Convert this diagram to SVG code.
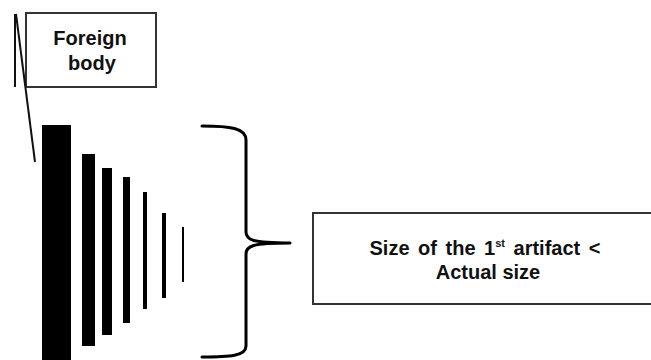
<svg xmlns="http://www.w3.org/2000/svg" width="651" height="360" viewBox="0 0 651 360">
<style>
.box{fill:#fff;stroke:#333;stroke-width:2}
.lbl{font-family:"Liberation Sans",Arial,sans-serif;font-weight:bold;font-size:20px;fill:#111;text-anchor:middle}
.bar{fill:#000}
.ln{stroke:#111;stroke-width:2;fill:none}
.brace{stroke:#000;stroke-width:3;fill:none;stroke-linecap:round;stroke-linejoin:round}
</style>
<rect width="651" height="360" fill="#fff"/>
<g id="foreign-body">
<rect class="box" x="26" y="13" width="130" height="74"/>
<text class="lbl" x="90" y="45">Foreign</text>
<text class="lbl" x="92" y="70">body</text>
</g>
<g id="connectors">
<line class="ln" x1="15" y1="14" x2="15" y2="87"/>
<line class="ln" x1="16" y1="14" x2="35" y2="162"/>
<path class="brace" d="M202,126 C230,126 246,128 246,140 L246,232 C246,240 252,243 290,243 C252,243 246,246 246,254 L246,346 C246,356 230,357 202,357"/>
</g>
<g id="artifacts">
<rect class="bar" x="42" y="125" width="29" height="235"/>
<rect class="bar" x="82" y="154" width="13" height="192"/>
<rect class="bar" x="102" y="168" width="10" height="167"/>
<rect class="bar" x="123" y="177" width="7" height="146"/>
<rect class="bar" x="143" y="192" width="4" height="117"/>
<rect class="bar" x="162" y="213" width="4" height="85"/>
<rect class="bar" x="182" y="227" width="2" height="55"/>
</g>
<g id="size-note">
<rect class="box" x="313" y="213" width="345" height="91"/>
<text class="lbl" x="485" y="255" word-spacing="3">Size of the 1<tspan font-size="11" dy="-8">st</tspan><tspan dy="8"> artifact &lt;</tspan></text>
<text class="lbl" x="488" y="279">Actual size</text>
</g>
</svg>
